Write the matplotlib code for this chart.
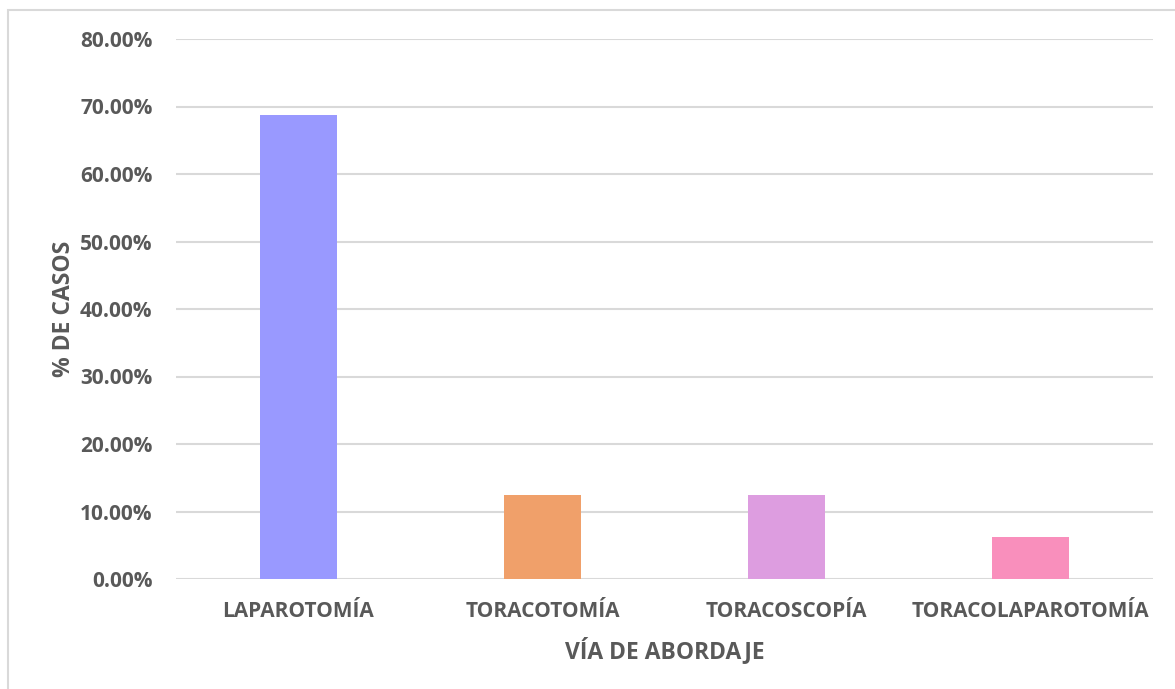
import matplotlib.pyplot as plt
from matplotlib.patches import Rectangle
from matplotlib.ticker import FuncFormatter

categories = ["LAPAROTOMÍA", "TORACOTOMÍA", "TORACOSCOPÍA", "TORACOLAPAROTOMÍA"]
percentages = [68.75, 12.50, 12.50, 6.25]
colors = ["#9999FF", "#F0A06A", "#DD9DE0", "#F98FBC"]

text_color = "#595959"
plt.rcParams['font.family'] = ['Open Sans', 'DejaVu Sans']

fig = plt.figure(figsize=(11.75, 6.89), dpi=100)
ax = fig.add_axes([176 / 1175, 1 - 579 / 689, (1153 - 176) / 1175, (579 - 39) / 689])

# chart border
fig.patches.append(Rectangle((8 / 1175, -0.01), 1.02, 1 - 10 / 689 + 0.01,
                             transform=fig.transFigure, fill=False,
                             edgecolor="#D9D9D9", linewidth=1.5, zorder=0))

x = range(len(categories))
ax.bar(x, percentages, width=0.316, color=colors, zorder=3)

ax.set_xlim(-0.5, 3.5)
ax.set_ylim(0, 80)
ax.set_yticks(range(0, 81, 10))
ax.yaxis.set_major_formatter(FuncFormatter(lambda v, p: f"{v:.2f}%"))
ax.grid(axis='y', color="#D9D9D9", linewidth=1.5, zorder=0)
ax.set_axisbelow(True)

for s in ax.spines.values():
    s.set_visible(False)
ax.tick_params(length=0, colors=text_color, labelsize=15)
ax.tick_params(axis='y', pad=17)
ax.tick_params(axis='x', pad=16)
ax.set_xticks(list(x))
ax.set_xticklabels(categories, fontweight='bold')
for lab in ax.get_yticklabels():
    lab.set_fontweight('bold')

ax.set_xlabel("VÍA DE ABORDAJE", fontsize=16.5, fontweight='bold', color=text_color, labelpad=11)
ax.set_ylabel("% DE CASOS", fontsize=16.5, fontweight='bold', color=text_color, labelpad=3)

fig.savefig("out.png", dpi=100)
